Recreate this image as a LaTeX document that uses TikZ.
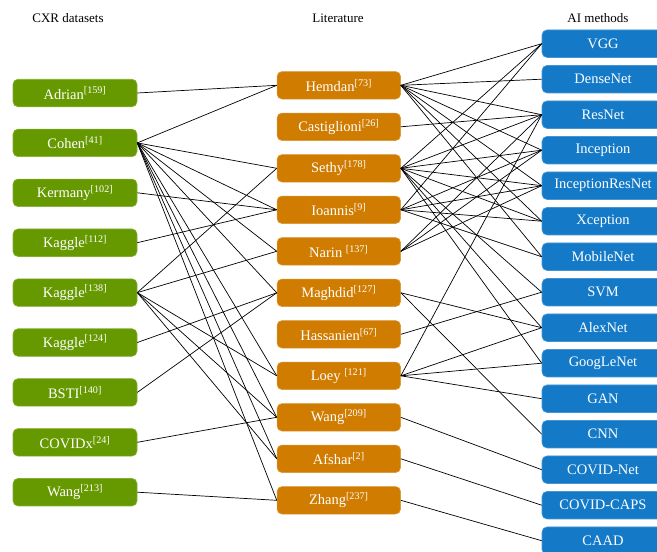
\documentclass[tikz,border=0pt]{standalone}
\usepackage{fontspec}
\setmainfont{Liberation Serif}
\definecolor{cgreen}{RGB}{102,153,0}
\definecolor{corange}{RGB}{208,124,0}
\definecolor{cblue}{RGB}{20,122,200}
\newcommand{\rf}[1]{\textsuperscript{[#1]}}
\begin{document}
\begin{tikzpicture}[x=1pt,y=-1pt,
  box/.style={rounded corners=5pt, minimum height=27.5pt, text=white, font=\fontsize{14.5}{16}\selectfont, inner sep=0pt, line width=0.6pt},
  gbox/.style={box, fill=cgreen, draw=cgreen!80!white, minimum width=124pt},
  obox/.style={box, fill=corange, draw=corange!80!white, minimum width=123.5pt},
  bbox/.style={box, fill=cblue, draw=cblue!80!white, minimum width=122pt},
  hdr/.style={font=\fontsize{13}{15}\selectfont},
  link/.style={line width=0.7pt, black}]
\useasboundingbox (0,0) rectangle (657,552);
\begin{scope}
\clip (0,0) rectangle (657,552);
% headers
\node[hdr] (h1) at (68,18) {CXR datasets};
\node[hdr] (h2) at (338,18) {Literature};
\node[hdr] (h3) at (598,18) {AI methods};
% datasets
\node[gbox] (adrian) at (75,93.0) {Adrian\rf{159}};
\node[gbox] (cohen) at (75,142.9) {Cohen\rf{41}};
\node[gbox] (kermany) at (75,192.8) {Kermany\rf{102}};
\node[gbox] (kag112) at (75,242.7) {Kaggle\rf{112}};
\node[gbox] (kag138) at (75,292.6) {Kaggle\rf{138}};
\node[gbox] (kag124) at (75,342.5) {Kaggle\rf{124}};
\node[gbox] (bsti) at (75,392.4) {BSTI\rf{140}};
\node[gbox] (covidx) at (75,442.3) {COVIDx\rf{24}};
\node[gbox] (wangd) at (75,492.2) {Wang\rf{213}};
% literature
\node[obox] (hemdan) at (338.8,85.3) {Hemdan\rf{73}};
\node[obox] (castig) at (338.8,126.8) {Castiglioni\rf{26}};
\node[obox] (sethy) at (338.8,168.3) {Sethy\rf{178}};
\node[obox] (ioannis) at (338.8,209.8) {Ioannis\rf{9}};
\node[obox] (narin) at (338.8,251.3) {Narin \rf{137}};
\node[obox] (maghdid) at (338.8,292.8) {Maghdid\rf{127}};
\node[obox] (hassan) at (338.8,334.3) {Hassanien\rf{67}};
\node[obox] (loey) at (338.8,375.8) {Loey \rf{121}};
\node[obox] (wangl) at (338.8,417.3) {Wang\rf{209}};
\node[obox] (afshar) at (338.8,458.8) {Afshar\rf{2}};
\node[obox] (zhang) at (338.8,500.3) {Zhang\rf{237}};
% methods
\node[bbox] (vgg) at (603,43.7) {VGG};
\node[bbox] (dense) at (603,79.2) {DenseNet};
\node[bbox] (resnet) at (603,114.7) {ResNet};
\node[bbox] (incep) at (603,150.2) {Inception};
\node[bbox] (incres) at (603,185.7) {InceptionResNet};
\node[bbox] (xcep) at (603,221.2) {Xception};
\node[bbox] (mobile) at (603,256.7) {MobileNet};
\node[bbox] (svm) at (603,292.2) {SVM};
\node[bbox] (alex) at (603,327.7) {AlexNet};
\node[bbox] (googl) at (603,363.2) {GoogLeNet};
\node[bbox] (gan) at (603,398.7) {GAN};
\node[bbox] (cnn) at (603,434.2) {CNN};
\node[bbox] (covnet) at (603,469.7) {COVID-Net};
\node[bbox] (covcaps) at (603,505.2) {COVID-CAPS};
\node[bbox] (caad) at (603,540.7) {CAAD};
% dataset -> literature
\foreach \a/\b in {adrian/hemdan, cohen/hemdan, cohen/sethy, cohen/ioannis, cohen/narin,
  cohen/maghdid, cohen/loey, cohen/wangl, cohen/afshar, cohen/zhang,
  kermany/ioannis, kag112/ioannis, kag138/sethy, kag138/narin, kag138/loey,
  kag138/wangl, kag138/afshar, kag124/maghdid, bsti/maghdid, covidx/wangl, wangd/zhang}
  \draw[link] (\a.east) -- (\b.west);
% literature -> methods
\foreach \a/\b in {hemdan/vgg, hemdan/dense, hemdan/resnet, hemdan/incep, hemdan/incres,
  hemdan/xcep, hemdan/mobile, castig/resnet,
  sethy/vgg, sethy/resnet, sethy/incep, sethy/incres, sethy/xcep, sethy/svm, sethy/alex, sethy/googl,
  ioannis/vgg, ioannis/incep, ioannis/incres, ioannis/xcep, ioannis/mobile,
  narin/resnet, narin/incep, narin/incres,
  maghdid/alex, maghdid/cnn, hassan/svm,
  loey/resnet, loey/alex, loey/googl, loey/gan,
  wangl/covnet, afshar/covcaps, zhang/caad}
  \draw[link] (\a.east) -- (\b.west);
\end{scope}
\end{tikzpicture}
\end{document}
